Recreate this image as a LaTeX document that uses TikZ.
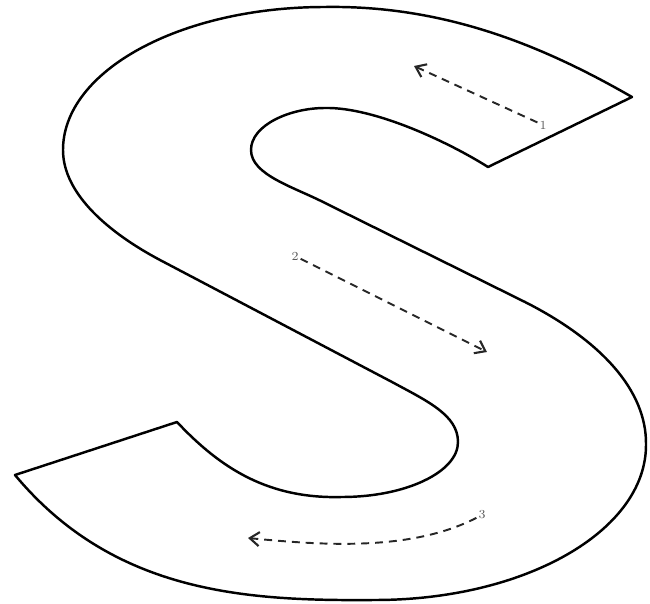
\documentclass[tikz,border=0pt]{standalone}
\usepackage{tikz}
\usetikzlibrary{arrows.meta}

\begin{document}
\begin{tikzpicture}[x=0.02cm,y=-0.02cm,
  outline/.style={draw=black,line width=1.4pt,line join=round},
  lbl/.style={text=gray!70!black,font=\fontsize{7}{8}\selectfont,inner sep=1pt},
  flow/.style={-{Straight Barb[length=1.9mm,width=2.8mm,line width=1.2pt]},line width=1.1pt,
    dash pattern=on 4.5pt off 3.4pt,black!85}]
  \useasboundingbox (0,0) rectangle (650,604);
  \draw[outline] (632,97)
    .. controls (550,50) and (450,5) .. (325,7)
    .. controls (180,7) and (63,71) .. (63,150)
    .. controls (63,195) and (111,234) .. (160,260)
    -- (392,382)
    .. controls (427,401) and (458,415) .. (458,442)
    .. controls (458,472) and (406,497) .. (342,497)
    .. controls (270,499) and (222,470) .. (177,422)
    -- (15,475)
    .. controls (115,595) and (250,601) .. (375,600)
    .. controls (525,600) and (646,531) .. (646,445)
    .. controls (647,390) and (600,340) .. (525,302)
    -- (325,203)
    .. controls (294,187) and (251,175) .. (251,150)
    .. controls (251,125) and (290,108) .. (325,108)
    .. controls (375,107) and (450,143) .. (488,167)
    -- cycle;
  \node[lbl] (n1) at (543,125) {1};
  \node[lbl] (n2) at (295,256) {2};
  \node[lbl] (n3) at (482,515) {3};
  \coordinate (e1) at (414,66);
  \coordinate (e2) at (487,352);
  \coordinate (e3) at (248,538);
  \draw[flow] (n1) -- (e1);
  \draw[flow] (n2) -- (e2);
  \draw[flow] (n3) .. controls (410,552) and (320,545) .. (e3);
\end{tikzpicture}
\end{document}
